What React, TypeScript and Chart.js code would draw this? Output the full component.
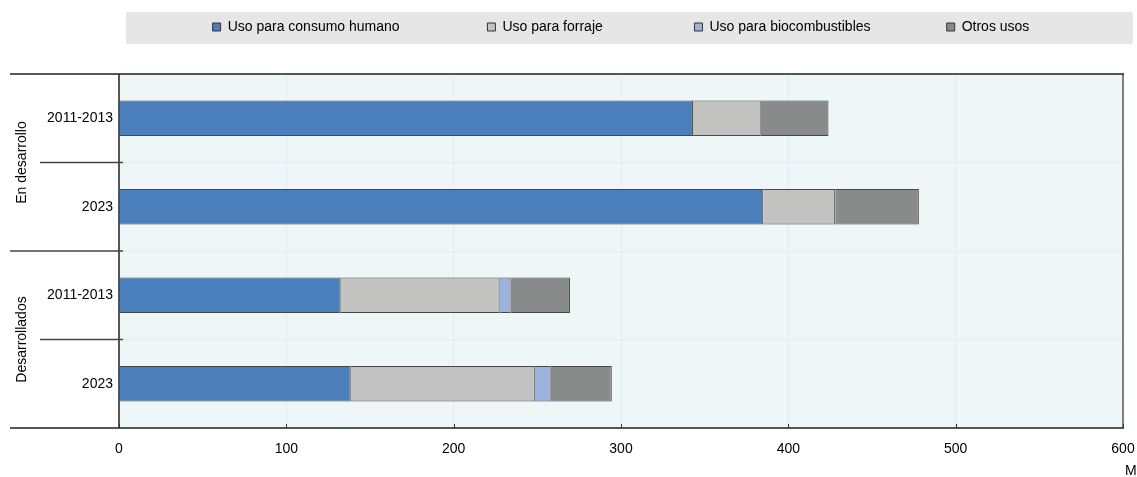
import React, { useEffect, useRef } from "react";
import { Chart, registerables } from "chart.js";

Chart.register(...registerables);

const categories = ["2011-2013", "2023", "2011-2013", "2023"];
const groups = ["En desarrollo", "Desarrollados"];
const seriesNames = [
  "Uso para consumo humano",
  "Uso para forraje",
  "Uso para biocombustibles",
  "Otros usos",
];
const consumoHumano = [343, 385, 132.5, 138.5];
const forraje = [40.5, 43, 95, 110];
const biocombustibles = [0, 0, 6.5, 9.5];
const otrosUsos = [40.5, 50, 35.5, 36.5];
const xTicks = [0, 100, 200, 300, 400, 500, 600];
const unitLabel = "Mt";

const colors = ["#4a7fbb", "#c2c3c1", "#9bb1de", "#878b8a"];
const FONT = '"Liberation Sans", Arial, sans-serif';
const FS = 14;
const LEGEND_PAD = 10;
const LEGEND_BOX = 8;
// spacing (px) from one legend box to the next, as in the reference
const legendSteps = [277, 208, 253];

let measureCtx: CanvasRenderingContext2D | null = null;
function padText(text: string, target: number): string {
  if (!measureCtx) measureCtx = document.createElement("canvas").getContext("2d");
  const c = measureCtx!;
  c.font = `${FS}px ${FONT}`;
  let s = text;
  while (c.measureText(s + " ").width <= target) s += " ";
  return s;
}

const decorPlugin = {
  id: "decor",
  beforeDraw(chart: any) {
    const ctx = chart.ctx;
    const { left, right, top, bottom } = chart.chartArea;
    ctx.save();
    const lg = chart.legend;
    if (lg) {
      ctx.fillStyle = "#e6e6e6";
      ctx.fillRect(126, lg.top + 2, chart.width - 130, 32);
    }
    ctx.fillStyle = "#eef6f7";
    ctx.fillRect(left, top, right - left, bottom - top);
    ctx.restore();
  },
  afterDraw(chart: any) {
    const ctx = chart.ctx;
    const { left, right, top, bottom } = chart.chartArea;
    const yScale = chart.scales.y;
    const xScale = chart.scales.x;
    ctx.save();
    ctx.strokeStyle = "#808080";
    ctx.lineWidth = 2;
    ctx.beginPath();
    ctx.moveTo(right, top);
    ctx.lineTo(right, bottom);
    ctx.stroke();
    ctx.strokeStyle = "#222";
    ctx.lineWidth = 1.5;
    ctx.beginPath();
    ctx.moveTo(10, top);
    ctx.lineTo(right + 1, top);
    ctx.moveTo(10, bottom);
    ctx.lineTo(right + 1, bottom);
    ctx.stroke();
    ctx.beginPath();
    ctx.moveTo(left, top);
    ctx.lineTo(left, bottom);
    ctx.stroke();
    const b = (i: number) =>
      (yScale.getPixelForValue(i - 1) + yScale.getPixelForValue(i)) / 2;
    ctx.strokeStyle = "#444";
    ctx.lineWidth = 1.5;
    ctx.beginPath();
    const mid = b(2);
    ctx.moveTo(10, mid);
    ctx.lineTo(left + 4, mid);
    const s1 = b(1);
    ctx.moveTo(40, s1);
    ctx.lineTo(left + 4, s1);
    const s2 = b(3);
    ctx.moveTo(40, s2);
    ctx.lineTo(left + 4, s2);
    ctx.stroke();
    ctx.strokeStyle = "#333";
    ctx.lineWidth = 1;
    ctx.beginPath();
    for (const t of xTicks) {
      const x = Math.round(xScale.getPixelForValue(t)) + 0.5;
      ctx.moveTo(x, bottom);
      ctx.lineTo(x, bottom - 4);
    }
    ctx.stroke();
    ctx.fillStyle = "#000";
    ctx.font = `${FS}px ${FONT}`;
    ctx.textAlign = "center";
    ctx.textBaseline = "middle";
    const g1 = (top + mid) / 2;
    const g2 = (mid + bottom) / 2;
    [g1, g2].forEach((cy, i) => {
      ctx.save();
      ctx.translate(22, cy);
      ctx.rotate(-Math.PI / 2);
      ctx.fillText(groups[i], 0, 0);
      ctx.restore();
    });
    ctx.textAlign = "left";
    ctx.fillText(unitLabel, 1125, 471);
    ctx.restore();
  },
};

export default function App() {
  const ref = useRef<HTMLCanvasElement>(null);
  useEffect(() => {
    if (!ref.current) return;
    const data = [consumoHumano, forraje, biocombustibles, otrosUsos];
    const chart = new Chart(ref.current, {
      type: "bar",
      data: {
        labels: categories,
        datasets: seriesNames.map((name, i) => ({
          label: name,
          data: data[i],
          backgroundColor: colors[i],
          borderColor: "rgba(40,40,40,0.85)",
          borderWidth: 1,
          barPercentage: 0.8,
          categoryPercentage: 0.5,
          xAxisID: "x",
        })),
      },
      plugins: [decorPlugin],
      options: {
        indexAxis: "y",
        animation: false,
        responsive: false,
        maintainAspectRatio: false,
        layout: { padding: { left: 10, right: 14, top: 10, bottom: 0 } },
        plugins: {
          legend: {
            position: "top",
            fullSize: false,
            labels: {
              font: { family: FONT, size: FS },
              color: "#000",
              boxWidth: LEGEND_BOX,
              boxHeight: LEGEND_BOX,
              padding: LEGEND_PAD,
              generateLabels: (chart: any) =>
                chart.data.datasets.map((ds: any, i: number) => ({
                  text:
                    i < legendSteps.length
                      ? padText(ds.label, legendSteps[i] - LEGEND_BOX - FS / 2 - LEGEND_PAD)
                      : ds.label,
                  fillStyle: colors[i],
                  strokeStyle: "#333",
                  lineWidth: 1,
                  datasetIndex: i,
                  hidden: false,
                })),
            },
          },
          tooltip: { enabled: false },
        },
        scales: {
          x: {
            stacked: true,
            min: 0,
            max: 600,
            position: "bottom",
            afterBuildTicks: (s: any) => {
              s.ticks = xTicks.map((v) => ({ value: v }));
            },
            afterFit: (s: any) => {
              s.height = 49;
              s.paddingLeft = 0;
              s.paddingRight = 0;
            },
            border: { display: false },
            grid: { color: "#e1ecee", drawTicks: false },
            ticks: {
              font: { family: FONT, size: FS },
              color: "#000",
              padding: 13,
              maxRotation: 0,
            },
          },
          xTop: {
            type: "linear",
            axis: "x",
            position: "top",
            min: 0,
            max: 600,
            display: true,
            grid: { display: false, drawTicks: false },
            border: { display: false },
            ticks: { display: false },
            afterFit: (s: any) => {
              s.height = 30;
              s.paddingLeft = 0;
              s.paddingRight = 0;
            },
          },
          y: {
            stacked: true,
            afterFit: (s: any) => {
              s.width = 109;
            },
            border: { display: false },
            grid: { color: "#e1ecee", drawTicks: false, offset: true },
            ticks: {
              font: { family: FONT, size: FS },
              color: "#000",
              padding: 6,
            },
          },
        },
      },
    });
    return () => chart.destroy();
  }, []);
  return (
    <div style={{ position: "fixed", left: 0, top: 0, width: 1137, height: 477 }}>
      <canvas ref={ref} width={1137} height={477} style={{ width: 1137, height: 477 }} />
    </div>
  );
}
